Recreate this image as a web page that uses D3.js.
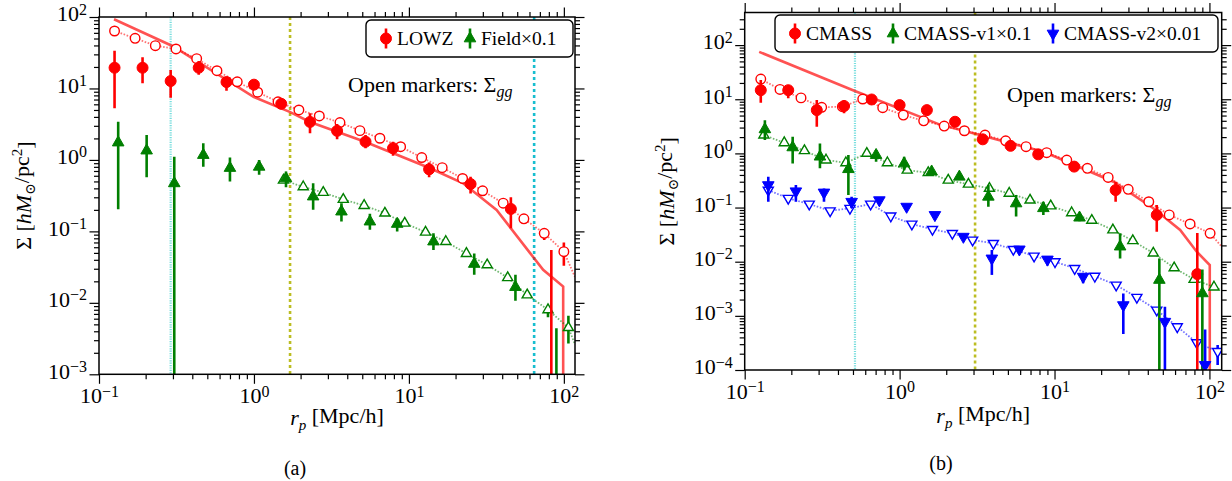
<!DOCTYPE html>
<html lang="en">
<head>
<meta charset="utf-8">
<title>Sigma profiles</title>
<script src="https://d3js.org/d3.v7.min.js"></script>
<style>
  body { margin: 0; background: #fff; }
  text { font-family: "Liberation Serif", "DejaVu Serif", serif; fill: #000; }
</style>
</head>
<body>
<script>
// ---------- panel (a) : LOWZ ----------
var lowzR   = [0.126, 0.191, 0.29, 0.44, 0.665, 1.0, 1.5, 2.3, 3.44, 5.25, 7.9, 13.5, 25.0, 45.5, 83];
var lowzSig = [19.5, 19.5, 12.7, 19.5, 12.3, 11.3, 6.1, 3.4, 2.55, 1.8, 1.46, 0.74, 0.46, 0.206, null];
var lowzHi  = [33.8, 27.3, 18.2, 24.3, 14.4, 12.6, 6.9, 4.5, 3.19, 2.24, 1.8, 0.92, 0.58, 0.3, 0.055];
var lowzLo  = [5.3, 11.8, 7.4, 15.5, 9.3, 10.1, 5.2, 2.36, 1.95, 1.46, 1.14, 0.57, 0.34, 0.111, 1e-6];

var lowzGgR = [0.126, 0.171, 0.231, 0.314, 0.427, 0.577, 0.78, 1.057, 1.43, 1.95, 2.64, 3.59, 4.83, 6.5, 8.84, 12.1, 16.4, 22.2, 29.9, 40.6, 55.2, 74.7, 100];
var lowzGg  = [63.7, 50.3, 39.7, 35.7, 26.1, 17.7, 12.4, 8.86, 6.5, 5.0, 4.12, 3.33, 2.57, 2.01, 1.53, 1.08, 0.78, 0.55, 0.37, 0.248, 0.15, 0.094, 0.052];
var lowzGgHi = [null, null, null, null, null, null, null, null, null, null, null, null, null, null, null, null, null, null, null, null, null, 0.1, 0.0697];
var lowzGgLo = [null, null, null, null, null, null, null, null, null, null, null, null, null, null, null, null, null, null, null, null, null, 0.076, 0.033];
var lowzGgEnd = [118, 0.023];

var fieldR   = [0.133, 0.203, 0.306, 0.471, 0.70, 1.08, 1.61, 2.41, 3.67, 5.6, 8.4, 14.4, 26.4, 48.7, 89.5];
var fieldSig = [1.75, 1.35, 0.47, 1.17, 0.77, 0.8, 0.55, 0.307, 0.189, 0.137, 0.127, 0.072, 0.035, 0.0166, null];
var fieldHi  = [3.43, 2.24, 1.11, 1.71, 1.08, 1.0, 0.69, 0.47, 0.248, 0.176, 0.153, 0.094, 0.049, 0.0247, 0.0044];
var fieldLo  = [0.204, 0.57, 1e-6, 0.8, 0.5, 0.62, 0.415, 0.2, 0.137, 0.105, 0.1, 0.055, 0.0247, 0.0107, 1e-6];

var fieldGgR  = [1.55, 2.08, 2.8, 3.77, 5.14, 7.0, 9.4, 12.8, 17.3, 23.5, 32, 43.4, 58, 79, 107];
var fieldGg   = [0.52, 0.42, 0.35, 0.28, 0.23, 0.18, 0.13, 0.0975, 0.072, 0.049, 0.034, 0.0225, 0.0129, 0.008, 0.0045];
var fieldGgHi = [null, null, null, null, null, null, null, null, null, null, null, null, null, null, 0.0066];
var fieldGgLo = [null, null, null, null, null, null, null, null, null, null, null, null, null, 0.0063, 0.0027];
var fieldGgEnd = [118, 0.0026];

var modelAR = [0.125, 0.3, 1.0, 1.7, 2.3, 5.2, 13.6, 22.4, 36.8, 60.4, 73.5, 99, 99.01];
var modelA  = [93, 39, 7.6, 4.7, 3.4, 1.8, 0.77, 0.47, 0.2, 0.05, 0.029, 0.0169, 1e-6];

var vlineAR = [0.29, 1.71, 64.3];

var xExpA = [-1, 0, 1, 2];
var yExpA = [-3, -2, -1, 0, 1, 2];

// ---------- panel (b) : CMASS ----------
var cmassR   = [0.127, 0.191, 0.292, 0.438, 0.66, 1.0, 1.5, 2.28, 3.44, 5.2, 7.85, 13.4, 24.8, 45.7, 83.5];
var cmassSig = [14.7, 14.7, 6.3, 7.5, 9.9, 7.8, 6.3, 3.84, 1.82, 1.38, 0.96, 0.57, 0.21, 0.073, 0.0059];
var cmassHi  = [22.6, 18.3, 9.7, 9.7, 10.8, 8.5, 6.9, 4.2, 2.0, 1.5, 1.05, 0.62, 0.3, 0.111, 0.034];
var cmassLo  = [8.6, 10.4, 3.1, 5.5, 9.0, 7.1, 5.8, 3.5, 1.65, 1.26, 0.87, 0.52, 0.128, 0.0358, 1e-7];

var cmassGgR = [0.127, 0.169, 0.231, 0.314, 0.427, 0.578, 0.778, 1.057, 1.43, 1.94, 2.62, 3.56, 4.84, 6.55, 8.9, 12.0, 16.3, 22.2, 29.9, 40.6, 55, 75, 101];
var cmassGg  = [23.6, 15.2, 10.6, 7.1, 7.3, 10.1, 7.0, 5.1, 4.0, 3.2, 2.62, 2.18, 1.71, 1.33, 1.03, 0.753, 0.53, 0.36, 0.217, 0.128, 0.073, 0.0497, 0.0334];
var cmassGgEnd = [120, 0.019];

var v1R   = [0.135, 0.204, 0.306, 0.467, 0.705, 1.07, 1.61, 2.43, 3.74, 5.65, 8.47, 14.5, 26.5, 47.5, 90];
var v1Sig = [2.78, 1.29, 0.87, 0.51, 0.93, 0.65, 0.46, 0.37, 0.158, 0.119, 0.097, 0.065, 0.019, 0.0046, 0.0026];
var v1Hi  = [4.1, 2.03, 1.53, 0.93, 1.15, 0.87, 0.5, 0.4, 0.26, 0.17, 0.128, 0.075, 0.0334, 0.0115, 0.0072];
var v1Lo  = [1.76, 0.65, 0.53, 0.17, 0.7, 0.49, 0.42, 0.34, 0.103, 0.068, 0.073, 0.056, 0.0115, 1e-7, 1e-7];

var v1GgR = [0.133, 0.18, 0.243, 0.335, 0.45, 0.614, 0.834, 1.12, 1.53, 2.06, 2.78, 3.8, 5.1, 6.95, 9.45, 12.9, 17.4, 23.8, 32, 43.4, 59.2, 79.6, 107];
var v1Gg  = [2.18, 1.57, 1.12, 0.753, 0.67, 1.0, 0.67, 0.49, 0.44, 0.32, 0.27, 0.226, 0.183, 0.137, 0.107, 0.08, 0.058, 0.0385, 0.0244, 0.0144, 0.0077, 0.0047, 0.0034];
var v1GgEnd = [120, 0.003];

var v2R   = [0.142, 0.214, 0.325, 0.49, 0.74, 1.11, 1.69, 2.58, 3.94, 5.93, 9.0, 15.3, 27.8, 51.6, 93.8];
var v2Sig = [0.26, 0.2, 0.19, 0.128, 0.137, 0.104, 0.073, 0.029, 0.0115, 0.0169, 0.011, 0.0053, 0.00158, 0.00078, 0.000124];
var v2Hi  = [0.37, 0.26, 0.226, 0.158, 0.15, 0.112, 0.08, 0.031, 0.0164, 0.019, 0.0125, 0.006, 0.0026, 0.00148, 0.00056];
var v2Lo  = [0.128, 0.128, 0.128, 0.097, 0.128, 0.097, 0.067, 0.027, 0.0057, 0.015, 0.0085, 0.004, 0.00046, 1e-7, 1e-7];

var v2GgR  = [0.142, 0.191, 0.261, 0.356, 0.478, 0.65, 0.877, 1.2, 1.63, 2.19, 2.96, 4.03, 5.42, 7.38, 10.07, 13.5, 18.2, 25, 34, 45.7, 62, 82.8, 113];
var v2Gg   = [0.21, 0.148, 0.116, 0.087, 0.097, 0.116, 0.07, 0.0497, 0.0396, 0.0334, 0.0251, 0.0218, 0.0169, 0.0127, 0.01, 0.0075, 0.0054, 0.0037, 0.0022, 0.00128, 0.00063, 0.00032, 0.00022];
var v2GgHi = [null, null, null, null, null, null, null, null, null, null, null, null, null, null, null, null, null, null, null, null, null, null, 0.00029];
var v2GgLo = [null, null, null, null, null, null, null, null, null, null, null, null, null, null, null, null, null, null, null, null, null, null, 0.000124];
var v2GgEnd = [120, 0.00019];

var modelBR = [0.124, 0.5, 1.82, 3.3, 8.5, 24, 43.4, 64.7, 82.8, 100.5, 100.51];
var modelB  = [75, 14.7, 3.4, 2.18, 1.07, 0.3, 0.097, 0.0385, 0.0153, 0.0087, 1e-7];

var vlineBR = [0.515, 3.07];

var xExpB = [-1, 0, 1, 2];
var yExpB = [-4, -3, -2, -1, 0, 1, 2];

// ---------- drawing ----------
var RED = "#ff0000", GREEN = "#007f00", BLUE = "#0000ff";

var svg = d3.select("body").append("svg")
  .attr("width", 1232).attr("height", 481)
  .style("background", "#fff");
var defs = svg.append("defs");

function rows(r, v, hi, lo) {
  return r.map(function(d, i) {
    return {r: d, v: v[i], hi: hi ? hi[i] : null, lo: lo ? lo[i] : null};
  });
}

function marker(sel, shape, color, open) {
  var sym = d3.symbol().type(shape === "circle" ? d3.symbolCircle : d3.symbolTriangle)
    .size(shape === "circle" ? (open ? 72 : 95) : (open ? 44 : 58));
  sel.append("path")
    .attr("d", sym)
    .attr("transform", function(d) {
      return "translate(" + d.px + "," + d.py + ")" + (shape === "down" ? " rotate(180)" : "");
    })
    .attr("fill", open ? "#fff" : color)
    .attr("stroke", color)
    .attr("stroke-width", open ? 1.4 : 1);
}

function powLabel(sel) {
  sel.each(function(d) {
    var t = d3.select(this), e = Math.round(Math.log10(d));
    t.text("10");
    t.append("tspan").attr("dy", "-0.42em").attr("font-size", "16px")
      .text(e < 0 ? "\u2212" + (-e) : String(e));
  });
}

function minorTicks(dom) {
  var out = [];
  for (var e = Math.floor(Math.log10(dom[0])); e <= Math.floor(Math.log10(dom[1])); e++) {
    for (var k = 2; k <= 9; k++) {
      var v = k * Math.pow(10, e);
      if (v > dom[0] && v < dom[1]) out.push(v);
    }
  }
  return out;
}

function drawPanel(p) {
  var x = d3.scaleLog().domain(p.xDom).range([p.x0, p.x1]);
  var y = d3.scaleLog().domain(p.yDom).range([p.y1, p.y0]);
  var g = svg.append("g");

  defs.append("clipPath").attr("id", p.id)
    .append("rect").attr("x", p.x0).attr("y", p.y0)
    .attr("width", p.x1 - p.x0).attr("height", p.y1 - p.y0);
  var plot = g.append("g").attr("clip-path", "url(#" + p.id + ")");

  // vertical reference lines
  p.vlines.forEach(function(v) {
    plot.append("line")
      .attr("x1", x(v.r)).attr("x2", x(v.r)).attr("y1", p.y0).attr("y2", p.y1)
      .attr("stroke", v.color).attr("stroke-width", v.w)
      .attr("stroke-dasharray", v.dash).attr("opacity", v.op);
  });

  var line = d3.line().x(function(d) { return x(d[0]); }).y(function(d) { return y(d[1]); });

  // model curve
  plot.append("path").datum(d3.zip(p.modelR, p.model))
    .attr("d", line).attr("fill", "none")
    .attr("stroke", RED).attr("stroke-opacity", 0.68).attr("stroke-width", 2.6);

  // open markers (Sigma_gg) with dotted connectors
  p.gg.forEach(function(s) {
    var pts = d3.zip(s.r, s.v).concat([s.end]);
    plot.append("path").datum(pts).attr("d", line).attr("fill", "none")
      .attr("stroke", s.color).attr("stroke-opacity", 0.55).attr("stroke-width", 1.8)
      .attr("stroke-dasharray", "1.6,1.6");
  });
  p.gg.forEach(function(s) {
    var data = rows(s.r, s.v, s.hi, s.lo);
    data.forEach(function(d) { d.px = x(d.r); d.py = y(d.v); });
    plot.selectAll(null).data(data.filter(function(d) { return d.hi != null || d.lo != null; }))
      .enter().append("line")
      .attr("x1", function(d) { return d.px; }).attr("x2", function(d) { return d.px; })
      .attr("y1", function(d) { return y(d.hi != null ? d.hi : d.v); })
      .attr("y2", function(d) { return y(d.lo != null ? d.lo : d.v); })
      .attr("stroke", s.color).attr("stroke-width", 2.6);
    marker(plot.selectAll(null).data(data).enter().append("g"), s.shape, s.color, true);
  });

  // filled markers with error bars
  p.series.forEach(function(s) {
    var data = rows(s.r, s.v, s.hi, s.lo);
    data.forEach(function(d) { d.px = x(d.r); d.py = d.v != null ? y(d.v) : 0; });
    plot.selectAll(null).data(data).enter().append("line")
      .attr("x1", function(d) { return d.px; }).attr("x2", function(d) { return d.px; })
      .attr("y1", function(d) { return y(d.hi); }).attr("y2", function(d) { return y(d.lo); })
      .attr("stroke", s.color).attr("stroke-width", 2.6);
    marker(plot.selectAll(null).data(data.filter(function(d) { return d.v != null; }))
      .enter().append("g"), s.shape, s.color, false);
  });

  // axes
  var xMaj = p.xExp.map(function(e) { return Math.pow(10, e); });
  var yMaj = p.yExp.map(function(e) { return Math.pow(10, e); });
  var xMin = minorTicks(p.xDom), yMin = minorTicks(p.yDom);

  function styleAxis(a) {
    a.select(".domain").remove();
    a.selectAll("line").attr("stroke", "#000").attr("stroke-width", 1.2);
    a.attr("font-family", null).attr("font-size", null);
    a.selectAll("text").attr("font-size", "22px");
  }
  var blank = function() { return ""; };
  [[d3.axisBottom, p.y1, true], [d3.axisTop, p.y0, false]].forEach(function(c) {
    var gm = g.append("g").attr("transform", "translate(0," + c[1] + ")")
      .call(c[0](x).tickValues(xMaj).tickSize(9.5).tickPadding(4).tickFormat(c[2] ? null : blank));
    styleAxis(gm);
    if (c[2]) powLabel(gm.selectAll("text"));
    var gn = g.append("g").attr("transform", "translate(0," + c[1] + ")")
      .call(c[0](x).tickValues(xMin).tickSize(5).tickFormat(blank));
    styleAxis(gn);
  });
  [[d3.axisLeft, p.x0, true], [d3.axisRight, p.x1, false]].forEach(function(c) {
    var gm = g.append("g").attr("transform", "translate(" + c[1] + ",0)")
      .call(c[0](y).tickValues(yMaj).tickSize(9.5).tickPadding(2.5).tickFormat(c[2] ? null : blank));
    styleAxis(gm);
    if (c[2]) { powLabel(gm.selectAll("text")); gm.selectAll("text").attr("dy", "0.17em"); }
    var gn = g.append("g").attr("transform", "translate(" + c[1] + ",0)")
      .call(c[0](y).tickValues(yMin).tickSize(5).tickFormat(blank));
    styleAxis(gn);
  });

  g.append("rect").attr("x", p.x0).attr("y", p.y0)
    .attr("width", p.x1 - p.x0).attr("height", p.y1 - p.y0)
    .attr("fill", "none").attr("stroke", "#000").attr("stroke-width", 1.5);

  // axis titles
  var yl = g.append("text").attr("text-anchor", "middle").attr("font-size", "22px")
    .attr("transform", "translate(" + p.yLabX + "," + ((p.y0 + p.y1) / 2) + ") rotate(-90)");
  yl.append("tspan").text("\u03A3 [");
  yl.append("tspan").attr("font-style", "italic").text("hM");
  yl.append("tspan").attr("dy", "0.3em").attr("font-size", "14px").text("\u2299");
  yl.append("tspan").attr("dy", "-0.3em").text("/pc");
  yl.append("tspan").attr("dy", "-0.45em").attr("font-size", "15px").text("2");
  yl.append("tspan").attr("dy", "0.45em").text("]");

  var xl = g.append("text").attr("text-anchor", "middle").attr("font-size", "22px")
    .attr("x", (p.x0 + p.x1) / 2).attr("y", p.xLabY);
  xl.append("tspan").attr("font-style", "italic").text("r");
  xl.append("tspan").attr("font-style", "italic").attr("dy", "0.3em").attr("font-size", "15px").text("p");
  xl.append("tspan").attr("dy", "-0.3em").text(" [Mpc/h]");

  // legend
  var L = p.legend;
  g.append("rect").attr("x", L.x).attr("y", L.y).attr("width", L.w).attr("height", L.h)
    .attr("rx", 5).attr("fill", "#fff").attr("stroke", "#000").attr("stroke-width", 1.4);
  var cy = L.y + L.h / 2;
  p.series.forEach(function(s, i) {
    var mx = L.items[i];
    g.append("line").attr("x1", mx).attr("x2", mx).attr("y1", cy - 10).attr("y2", cy + 10)
      .attr("stroke", s.color).attr("stroke-width", 2.6);
    marker(g.selectAll(null).data([{px: mx, py: cy}]).enter().append("g"), s.shape, s.color, false);
    g.append("text").attr("x", mx + 11).attr("y", cy + 6.5).attr("font-size", "19.5px").text(s.label);
  });

  var note = g.append("text").attr("x", p.note[0]).attr("y", p.note[1]).attr("font-size", "22px");
  note.append("tspan").text("Open markers: \u03A3");
  note.append("tspan").attr("font-style", "italic").attr("dy", "0.3em").attr("font-size", "16px").text("gg");

  g.append("text").attr("x", p.cap[0]).attr("y", p.cap[1]).attr("text-anchor", "middle")
    .attr("font-size", "20px").text(p.capText);
}

drawPanel({
  id: "clipA", x0: 99, x1: 575, y0: 17, y1: 374.3,
  xDom: [0.1, 118], yDom: [1e-3, 100], xExp: xExpA, yExp: yExpA,
  vlines: [
    {r: vlineAR[0], color: "#20c8c8", w: 2.2, dash: "1.2,1.2", op: 0.6},
    {r: vlineAR[1], color: "#bcbd22", w: 2.6, dash: "3,3", op: 1},
    {r: vlineAR[2], color: "#17becf", w: 2.6, dash: "3,3", op: 1}
  ],
  modelR: modelAR, model: modelA,
  gg: [
    {r: lowzGgR, v: lowzGg, hi: lowzGgHi, lo: lowzGgLo, end: lowzGgEnd, color: RED, shape: "circle"},
    {r: fieldGgR, v: fieldGg, hi: fieldGgHi, lo: fieldGgLo, end: fieldGgEnd, color: GREEN, shape: "up"}
  ],
  series: [
    {r: lowzR, v: lowzSig, hi: lowzHi, lo: lowzLo, color: RED, shape: "circle", label: "LOWZ"},
    {r: fieldR, v: fieldSig, hi: fieldHi, lo: fieldLo, color: GREEN, shape: "up", label: "Field\u00D70.1"}
  ],
  legend: {x: 366, y: 20, w: 207, h: 37, items: [386, 470]},
  note: [348, 92], yLabX: 31, xLabY: 425,
  cap: [295, 475], capText: "(a)"
});

drawPanel({
  id: "clipB", x0: 744.7, x1: 1221.7, y0: 12.5, y1: 370,
  xDom: [0.1, 120], yDom: [1e-4, 400], xExp: xExpB, yExp: yExpB,
  vlines: [
    {r: vlineBR[0], color: "#20c8c8", w: 2.2, dash: "1.2,1.2", op: 0.6},
    {r: vlineBR[1], color: "#bcbd22", w: 2.6, dash: "3,3", op: 1}
  ],
  modelR: modelBR, model: modelB,
  gg: [
    {r: cmassGgR, v: cmassGg, hi: null, lo: null, end: cmassGgEnd, color: RED, shape: "circle"},
    {r: v1GgR, v: v1Gg, hi: null, lo: null, end: v1GgEnd, color: GREEN, shape: "up"},
    {r: v2GgR, v: v2Gg, hi: v2GgHi, lo: v2GgLo, end: v2GgEnd, color: BLUE, shape: "down"}
  ],
  series: [
    {r: cmassR, v: cmassSig, hi: cmassHi, lo: cmassLo, color: RED, shape: "circle", label: "CMASS"},
    {r: v1R, v: v1Sig, hi: v1Hi, lo: v1Lo, color: GREEN, shape: "up", label: "CMASS-v1\u00D70.1"},
    {r: v2R, v: v2Sig, hi: v2Hi, lo: v2Lo, color: BLUE, shape: "down", label: "CMASS-v2\u00D70.01"}
  ],
  legend: {x: 775, y: 15, w: 443, h: 37, items: [795, 893, 1053]},
  note: [1007, 102], yLabX: 674, xLabY: 423,
  cap: [941, 470], capText: "(b)"
});
</script>
</body>
</html>
